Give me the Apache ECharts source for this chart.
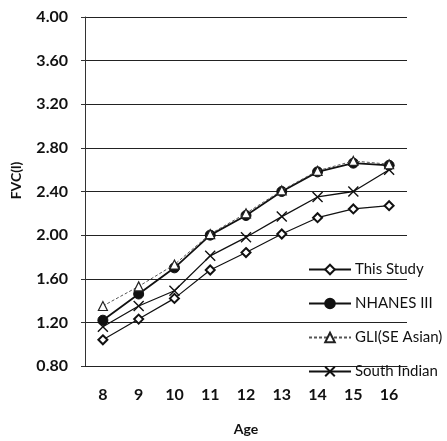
<!DOCTYPE html>
<html>
<head>
<meta charset="utf-8">
<script src="https://cdn.jsdelivr.net/npm/echarts@6/dist/echarts.min.js"></script>
<style>
  html, body { margin: 0; padding: 0; background: #fff; }
  #chart { width: 447px; height: 441px; }
</style>
</head>
<body>
<div id="chart"></div>
<script>
// Age groups (years)
const ages = ['8', '9', '10', '11', '12', '13', '14', '15', '16'];

// FVC in litres for each reference set
const thisStudy   = [1.04, 1.23, 1.42, 1.68, 1.84, 2.01, 2.16, 2.24, 2.27];
const nhanes3     = [1.22, 1.46, 1.70, 2.00, 2.18, 2.40, 2.58, 2.66, 2.64];
const gliSeAsian  = [1.35, 1.53, 1.73, 2.01, 2.20, 2.41, 2.59, 2.68, 2.65];
const southIndian = [1.16, 1.35, 1.49, 1.81, 1.98, 2.17, 2.35, 2.40, 2.60];

const seriesNames = ['This Study', 'NHANES III', 'GLI(SE Asian)', 'South Indian'];

const FONT = 'Lato, "Open Sans", sans-serif';
const crossPath = 'path://M0,0L10,10M10,0L0,10';

const chart = echarts.init(document.getElementById('chart'), null, { renderer: 'canvas' });

chart.setOption({
  animation: false,
  backgroundColor: '#fff',
  grid: { left: 85, right: 40, top: 17, bottom: 72, containLabel: false },
  legend: {
    orient: 'vertical',
    left: 303,
    top: 257,
    itemWidth: 42,
    itemHeight: 12,
    itemGap: 19,
    data: seriesNames,
    textStyle: { fontFamily: FONT, fontSize: 15, color: '#111', padding: [0, 0, 0, -1] }
  },
  xAxis: {
    type: 'category',
    data: ages,
    boundaryGap: true,
    name: 'Age',
    nameLocation: 'middle',
    nameGap: 56,
    nameTextStyle: { fontFamily: FONT, fontSize: 14, fontWeight: 'bold', color: '#111' },
    axisLine: { lineStyle: { color: '#222', width: 1 } },
    axisTick: { show: false },
    axisLabel: { fontFamily: FONT, fontSize: 16, fontWeight: 'bold', color: '#111', margin: 21 }
  },
  yAxis: {
    type: 'value',
    min: 0.8,
    max: 4.0,
    interval: 0.4,
    name: 'FVC(l)',
    nameLocation: 'middle',
    nameGap: 62,
    nameRotate: 90,
    nameTextStyle: {
      fontFamily: FONT, fontSize: 14, fontWeight: 'bold', color: '#111',
      padding: [0, 0, 0, 22]
    },
    axisLine: { show: true, lineStyle: { color: '#333', width: 1 } },
    axisTick: { show: true, length: 4, lineStyle: { color: '#333' } },
    axisLabel: {
      fontFamily: FONT, fontSize: 16, fontWeight: 'bold', color: '#111', margin: 17,
      formatter: v => v.toFixed(2)
    },
    splitLine: { show: true, lineStyle: { color: '#222', width: 1 } }
  },
  series: [
    {
      name: 'This Study',
      type: 'line',
      data: thisStudy,
      symbol: 'diamond',
      symbolSize: 9,
      lineStyle: { color: '#111', width: 1.2 },
      itemStyle: { color: '#fff', borderColor: '#111', borderWidth: 2 },
      z: 3
    },
    {
      name: 'NHANES III',
      type: 'line',
      data: nhanes3,
      symbol: 'circle',
      symbolSize: 10,
      lineStyle: { color: '#111', width: 1.8 },
      itemStyle: { color: '#111', borderColor: '#111', borderWidth: 1 },
      z: 4
    },
    {
      name: 'GLI(SE Asian)',
      type: 'line',
      data: gliSeAsian,
      symbol: 'triangle',
      symbolSize: 9,
      lineStyle: { color: '#555', width: 1, type: [3, 2] },
      itemStyle: { color: '#fff', borderColor: '#222', borderWidth: 1.2 },
      z: 5
    },
    {
      name: 'South Indian',
      type: 'line',
      data: southIndian,
      symbol: crossPath,
      symbolSize: 10,
      lineStyle: { color: '#111', width: 1.3 },
      itemStyle: { color: 'none', borderColor: '#111', borderWidth: 1.4 },
      z: 3
    }
  ]
});
</script>
</body>
</html>
